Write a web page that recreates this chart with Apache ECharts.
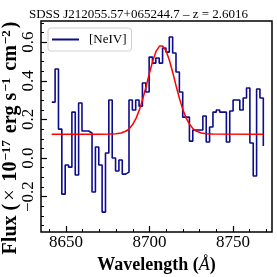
<!DOCTYPE html>
<html><head><meta charset="utf-8">
<script src="https://cdn.jsdelivr.net/npm/echarts@6/dist/echarts.min.js"></script>
<style>html,body{margin:0;padding:0;background:#fff}#c{width:277px;height:277px}</style>
</head><body><div id="c"></div>
<script>
const titleText = 'SDSS J212055.57+065244.7 – z = 2.6016';
const seriesName = '[NeIV]';
const wavelength = [8641.44,8643.45,8645.46,8647.48,8649.49,8651.50,8653.51,8655.52,8657.54,8659.55,8661.56,8663.57,8665.58,8667.60,8669.61,8671.62,8673.63,8675.64,8677.66,8679.67,8681.68,8683.69,8685.70,8687.72,8689.73,8691.74,8693.75,8695.76,8697.78,8699.79,8701.80,8703.81,8705.82,8707.84,8709.85,8711.86,8713.87,8715.88,8717.90,8719.91,8721.92,8723.93,8725.94,8727.96,8729.97,8731.98,8733.99,8736.00,8738.02,8740.03,8742.04,8744.05,8746.06,8748.08,8750.09,8752.10,8754.11,8756.12,8758.14,8760.15,8762.16,8764.17,8766.18,8768.20];
const flux = [0.29,0.461,0.150,-0.187,-0.036,-0.047,0.238,-0.088,0.285,0.140,0.140,0.130,-0.176,0.057,-0.036,-0.280,0.026,0.301,0.000,-0.067,-0.010,-0.083,-0.073,0.301,0.249,0.301,0.269,0.389,0.342,0.523,0.492,0.518,0.492,0.570,0.549,0.627,0.544,0.446,0.342,0.212,0.212,0.088,0.145,0.145,0.145,0.218,0.083,0.161,0.238,0.249,0.238,0.238,0.083,0.244,0.301,0.301,0.249,0.311,0.363,0.078,-0.093,0.358,0.311,0.062];
const fitWave = [8641.4,8670,8676,8680,8683,8686,8688,8690,8692,8694,8696,8698,8700,8702,8704,8706,8707,8708,8710,8712,8714,8716,8718,8720,8722,8724,8726,8728,8731,8734,8738,8768.2];
const fitFlux = [0.124,0.124,0.1243,0.1258,0.1297,0.140,0.153,0.175,0.207,0.251,0.307,0.372,0.441,0.504,0.554,0.580,0.584,0.580,0.554,0.504,0.441,0.372,0.307,0.251,0.207,0.175,0.153,0.140,0.1297,0.1258,0.1243,0.124];
const xMajorTicks = [8650,8700,8750];
const xMinorTicks = [8640,8650,8660,8670,8680,8690,8700,8710,8720,8730,8740,8750,8760,8770];
const yMajorTicks = [-0.2,0,0.2,0.4,0.6];
const yMinorTicks = [-0.35,-0.3,-0.25,-0.2,-0.15,-0.1,-0.05,0,0.05,0.1,0.15,0.2,0.25,0.3,0.35,0.4,0.45,0.5,0.55,0.6,0.65,0.7];

const serif = '"Liberation Serif","DejaVu Serif",serif';
const xMin = 8635.0, xMax = 8773.4, yMin = -0.383, yMax = 0.71;
const fmtY = v => (v < 0 ? '\u2212' : '') + Math.abs(v).toFixed(1);
const fmtX = v => String(Math.round(v));

const chart = echarts.init(document.getElementById('c'), null, {renderer:'canvas'});
chart.setOption({
  animation: false,
  title: {text: titleText, left: 'center', top: 3, textStyle: {fontFamily: serif, fontSize: 13, fontWeight: 'normal', color: '#000'}},
  grid: {left: 41, top: 21, right: 5, bottom: 45, show: true, borderColor: '#000', borderWidth: 1.5, backgroundColor: 'transparent',
         containLabel: false, outerBoundsMode: 'none'},
  legend: {
    left: 48, top: 28, padding: [5,5,5,4], backgroundColor: '#fff', borderColor: '#d0d0d0', borderWidth: 1, borderRadius: 3,
    itemWidth: 27, itemHeight: 2, icon: 'rect',
    textStyle: {fontFamily: serif, fontSize: 13, color: '#000', padding: [0,0,0,5]},
    data: [seriesName]
  },
  xAxis: [
    {type: 'value', min: xMin, max: xMax, position: 'bottom',
     axisLine: {show: false, onZero: false}, splitLine: {show: false},
     axisTick: {show: true, inside: true, length: 6, lineStyle: {color: '#000', width: 1.2}, customValues: xMajorTicks},
     axisLabel: {show: true, customValues: xMajorTicks, margin: 2, fontFamily: serif, fontSize: 17, color: '#000', formatter: fmtX},
     name: '{b|Wavelength (}{i|Å}{b|)}', nameLocation: 'middle', nameGap: 24, nameMoveOverlap: false,
     nameTextStyle: {rich: {b: {fontFamily: serif, fontSize: 18, fontWeight: 'bold', color: '#000'}, i: {fontFamily: serif, fontSize: 18, fontStyle: 'italic', color: '#000'}}}},
    {type: 'value', min: xMin, max: xMax, position: 'bottom',
     axisLine: {show: false, onZero: false}, splitLine: {show: false}, axisLabel: {show: false},
     axisTick: {show: true, inside: true, length: 3, lineStyle: {color: '#000', width: 1}, customValues: xMinorTicks}}
  ],
  yAxis: [
    {type: 'value', min: yMin, max: yMax, position: 'left',
     axisLine: {show: false, onZero: false}, splitLine: {show: false},
     axisTick: {show: true, inside: true, length: 6, lineStyle: {color: '#000', width: 1.2}, customValues: yMajorTicks},
     axisLabel: {show: true, customValues: yMajorTicks, rotate: 90, margin: 4, fontFamily: serif, fontSize: 17, color: '#000', formatter: fmtY},
     name: '{b|Flux (}{n|×}{b| 10}{s|\u221217}{b| erg s}{s|\u22121}{b| cm}{s|\u22122}{b|)}',
     nameLocation: 'middle', nameRotate: 90, nameGap: 19, nameMoveOverlap: false,
     nameTextStyle: {padding: [0, 23, 0, 0], rich: {
       b: {fontFamily: serif, fontSize: 20, fontWeight: 'bold', color: '#000', lineHeight: 22},
       n: {fontFamily: serif, fontSize: 20, color: '#000', lineHeight: 22, padding: [0, 3, 0, 3]},
       s: {fontFamily: serif, fontSize: 13, fontWeight: 'bold', color: '#000', lineHeight: 11, verticalAlign: 'top', padding: [0, 2, 0, 1]}
     }}},
    {type: 'value', min: yMin, max: yMax, position: 'left',
     axisLine: {show: false, onZero: false}, splitLine: {show: false}, axisLabel: {show: false},
     axisTick: {show: true, inside: true, length: 3, lineStyle: {color: '#000', width: 1}, customValues: yMinorTicks}}
  ],
  series: [
    {name: seriesName, type: 'line', step: 'end', showSymbol: false, symbol: 'none',
     data: wavelength.map((w, i) => [w, flux[i]]),
     lineStyle: {color: '#0c0c8c', width: 1.6}, itemStyle: {color: '#0c0c8c'}},
    {name: 'fit', type: 'line', showSymbol: false, symbol: 'none',
     data: fitWave.map((w, i) => [w, fitFlux[i]]),
     lineStyle: {color: '#ff0000', width: 1.5}, itemStyle: {color: '#ff0000'}}
  ]
});
</script></body></html>
